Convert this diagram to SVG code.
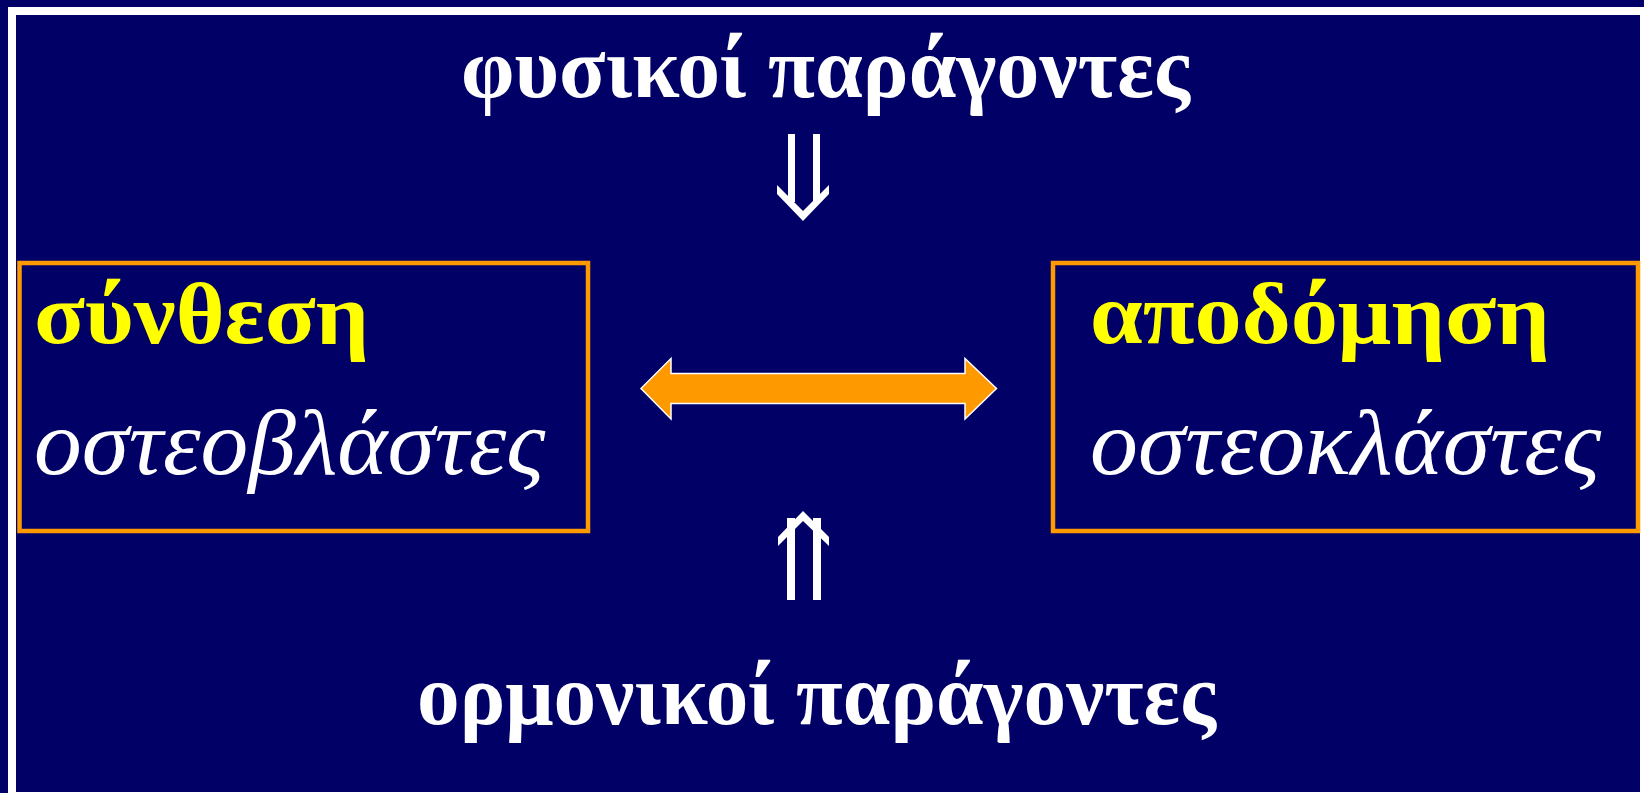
<svg xmlns="http://www.w3.org/2000/svg" width="1644" height="793" viewBox="0 0 1644 793">
<style>
.t{font-family:"Liberation Serif","Times New Roman",serif;font-weight:bold;fill:#FFFFFF;font-size:86px}
.h{font-family:"Liberation Serif","Times New Roman",serif;font-weight:bold;fill:#FFFF00;font-size:86px}
.i{font-family:"Liberation Serif","Times New Roman",serif;font-style:italic;fill:#FFFFFF;font-size:94px}
.box{fill:none;stroke:#FF9900;stroke-width:4.5}
.wa{fill:#FFFFFF}
</style>
<rect x="0" y="0" width="1644" height="793" fill="#000066"/>
<rect x="8" y="7" width="1640" height="790" fill="#FFFFFF"/>
<rect x="16" y="15" width="1624" height="777" fill="#000066"/>

<g id="top-label">
<text class="t" x="461" y="97" textLength="729" lengthAdjust="spacingAndGlyphs">φυσικοί παράγοντες</text>
</g>
<g id="bottom-label">
<text class="t" x="417" y="724" textLength="799" lengthAdjust="spacingAndGlyphs">ορμονικοί παράγοντες</text>
</g>
<g id="synthesis">
<rect class="box" x="19.5" y="263" width="568.5" height="268"/>
<text class="h" x="34" y="343" textLength="335" lengthAdjust="spacingAndGlyphs">σύνθεση</text>
<text class="i" x="34" y="474" textLength="511" lengthAdjust="spacingAndGlyphs">οστεοβλάστες</text>
</g>
<g id="resorption">
<rect class="box" x="1053" y="263" width="585" height="268"/>
<text class="h" x="1090" y="343" textLength="460" lengthAdjust="spacingAndGlyphs">αποδόμηση</text>
<text class="i" x="1090" y="474" textLength="511" lengthAdjust="spacingAndGlyphs">οστεοκλάστες</text>
</g>
<g id="connectors">
<g id="down-arrow" class="wa">
<rect x="788" y="134" width="7" height="68"/>
<rect x="813" y="134" width="7" height="68"/>
<polygon points="777,185 803,211 829,185 829,194 803,221 777,194"/>
</g>
<g id="up-arrow" class="wa">
<rect x="787" y="518" width="8" height="82"/>
<rect x="813" y="518" width="8" height="82"/>
<polygon points="778,537 803,511 829,537 829,546 803,521 778,546"/>
</g>
<polygon id="double-arrow" points="641,388.5 671,358.5 671,373.5 965,373.5 965,358.5 996.5,388.5 965,419 965,403.5 671,403.5 671,419" fill="#FF9900" stroke="#FFFFFF" stroke-width="1.5"/>
</g>
</svg>
